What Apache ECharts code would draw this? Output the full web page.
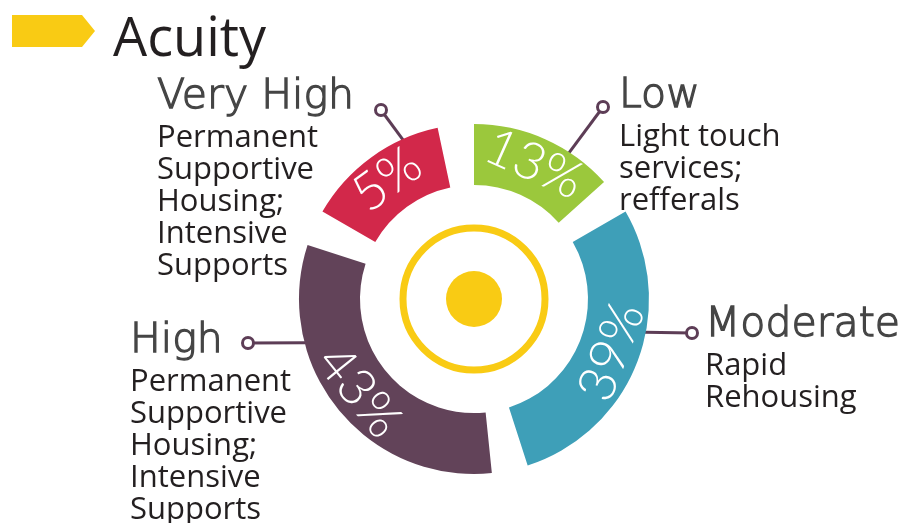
<!DOCTYPE html>
<html>
<head>
<meta charset="utf-8">
<title>Acuity</title>
<script src="https://cdn.jsdelivr.net/npm/echarts@6/dist/echarts.min.js"></script>
<style>
    html, body { margin: 0; padding: 0; background: #fff; }
    #main { width: 909px; height: 523px; }
</style>
</head>
<body>
<div id="main"></div>
<script>
// 数据
var levels = ['Low', 'Moderate', 'High', 'Very High'];
var shares = [13, 39, 43, 5];
var notes = [
    ['Light touch', 'services;', 'refferals'],
    ['Rapid', 'Rehousing'],
    ['Permanent', 'Supportive', 'Housing;', 'Intensive', 'Supports'],
    ['Permanent', 'Supportive', 'Housing;', 'Intensive', 'Supports']
];

var colors = ['#9bc83c', '#3e9fb8', '#624359', '#d2284a'];
var yellow = '#f9cb14';
var lineColor = '#5d3d56';
var center = [474, 299];
var radius = [114, 175];

// 标签位置: 文字块左上角, 圆点, 引线角度
var labelPos = {
    'Low':       {x: 619, y: 71,  dot: [603, 107], deg: 57},
    'Moderate':  {x: 705, y: 300, dot: [692, 333], deg: -11},
    'High':      {x: 130, y: 316, dot: [248, 343], deg: 194.6},
    'Very High': {x: 157, y: 72,  dot: [381, 110], deg: 114}
};

function ringSeries(extra) {
    var s = {
        type: 'pie',
        center: center,
        radius: radius,
        startAngle: 96,
        clockwise: true,
        minAngle: 48,
        padAngle: 12,
        avoidLabelOverlap: false,
        silent: true,
        animation: false,
        itemStyle: { borderWidth: 0 },
        data: levels.map(function (name, i) {
            return { name: name, value: shares[i] };
        })
    };
    for (var k in extra) s[k] = extra[k];
    return s;
}

var option = {
    title: {
        text: 'Acuity',
        left: 108,
        top: 6,
        textStyle: {
            fontFamily: 'Open Sans',
            fontSize: 54,
            fontWeight: 'normal',
            color: '#231f20',
            lineHeight: 60
        }
    },
    graphic: [
        {
            type: 'polygon',
            shape: { points: [[12, 15], [82, 15], [95, 31], [82, 47], [12, 47]] },
            style: { fill: yellow }
        },
        {
            type: 'circle',
            shape: { cx: center[0], cy: center[1], r: 71 },
            style: { fill: 'none', stroke: yellow, lineWidth: 7 }
        },
        {
            type: 'circle',
            shape: { cx: center[0], cy: center[1], r: 28 },
            style: { fill: yellow }
        }
    ],
    series: [
        // 色环 + 百分比
        ringSeries({
            itemStyle: {
                borderWidth: 0,
                color: function (p) { return colors[p.dataIndex]; }
            },
            label: {
                show: true,
                position: 'inside',
                rotate: 'tangential',
                formatter: '{c}%',
                color: '#fff',
                fontFamily: 'Lato',
                fontWeight: 300,
                fontSize: 52
            },
            labelLine: { show: false }
        }),
        // 外侧文字
        ringSeries({
            itemStyle: { borderWidth: 0, color: 'transparent' },
            label: {
                show: true,
                position: 'outside',
                formatter: function (p) {
                    var lines = notes[p.dataIndex].map(function (s) { return '{d|' + s + '}'; });
                    return '{t|' + p.name + '}\n' + lines.join('\n');
                },
                rich: {
                    t: {
                        fontFamily: 'DejaVu Sans',
                        fontWeight: 200,
                        fontSize: 41,
                        lineHeight: 50,
                        color: '#454545',
                        textBorderColor: '#454545',
                        textBorderWidth: 1.3
                    },
                    d: {
                        fontFamily: 'Open Sans',
                        fontSize: 31,
                        lineHeight: 32,
                        color: '#231f20'
                    }
                }
            },
            labelLine: { show: false },
            labelLayout: function (p) {
                var pos = labelPos[levels[p.dataIndex]];
                return { x: pos.x, y: pos.y, align: 'left', verticalAlign: 'top' };
            }
        }),
        // 引线 + 圆点
        ringSeries({
            itemStyle: { borderWidth: 0, color: 'transparent' },
            label: {
                show: true,
                position: 'outside',
                formatter: '{o|}',
                rich: {
                    o: {
                        width: 8,
                        height: 8,
                        borderRadius: 7,
                        borderWidth: 3,
                        borderColor: lineColor,
                        backgroundColor: '#fff'
                    }
                }
            },
            labelLine: {
                show: true,
                lineStyle: { color: lineColor, width: 3 }
            },
            labelLayout: function (p) {
                var pos = labelPos[levels[p.dataIndex]];
                var a = pos.deg * Math.PI / 180;
                var sx = center[0] + (radius[1] - 1) * Math.cos(a);
                var sy = center[1] - (radius[1] - 1) * Math.sin(a);
                return {
                    x: pos.dot[0],
                    y: pos.dot[1],
                    align: 'center',
                    verticalAlign: 'middle',
                    labelLinePoints: [[sx, sy], [pos.dot[0], pos.dot[1]]]
                };
            }
        })
    ]
};

var chart = echarts.init(document.getElementById('main'));
chart.setOption(option);
</script>
</body>
</html>
